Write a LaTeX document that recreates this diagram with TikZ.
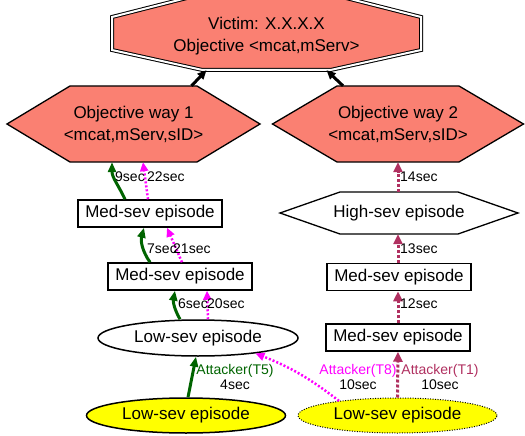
\documentclass[tikz,border=0pt]{standalone}
\usepackage{fontspec}
\setmainfont{Liberation Sans}
\usetikzlibrary{shapes.geometric, arrows.meta}
\definecolor{salmon}{HTML}{FA8072}
\definecolor{darkgreen}{HTML}{006400}
\definecolor{maroon}{HTML}{B03060}
\definecolor{fuchsia}{HTML}{FF00FF}
\definecolor{gvyellow}{HTML}{FFFF00}
\tikzset{
  octa/.style={
    draw, double, double distance=2pt, line width=1pt,
    fill=salmon
  },
  hexa/.style={
    draw, line width=1.3pt, fill=salmon
  },
  objtext/.style={
    shape=rectangle,
    align=center,
    font=\fontsize{17}{22}\selectfont,
    inner sep=0pt,
  },
  episode/.style={
    draw, rectangle, line width=1.5pt,
    font=\fontsize{17}{20}\selectfont,
    minimum width=144pt, minimum height=27pt, inner sep=0pt
  },
  lowsev/.style={
    draw, ellipse, line width=1.5pt,
    font=\fontsize{17}{20}\selectfont,
    minimum width=199pt, minimum height=35pt, inner sep=0pt
  },
  lbl/.style={font=\fontsize{14}{14.5}\selectfont, inner sep=0pt, anchor=west},
  greenedge/.style={darkgreen, line width=3pt, -{Triangle[length=10pt,width=8pt]}},
  pinkedge/.style={fuchsia, line width=2.5pt, dash pattern=on 2pt off 2pt, -{Triangle[length=9pt,width=8pt]}},
  maroonedge/.style={maroon, line width=3pt, dash pattern=on 3pt off 2pt, -{Triangle[length=10pt,width=9pt]}},
  topedge/.style={black, line width=3pt, -{Triangle[length=9pt,width=8pt]}},
}

\begin{document}
\begin{tikzpicture}[x=1pt, y=1pt]
\useasboundingbox (0,0) rectangle (525,-436);

% Objectives
\draw[octa] (202.5,6) -- (330.5,6) -- (421,-17) -- (421,-50) -- (330.5,-70) -- (202.5,-70) -- (112,-50) -- (112,-17) -- cycle;
\draw[hexa] (7,-124) -- (70,-86) -- (197,-86) -- (260,-124) -- (197,-162) -- (70,-162) -- cycle;
\draw[hexa] (272.5,-124) -- (337,-86) -- (459,-86) -- (523.5,-124) -- (459,-162) -- (337,-162) -- cycle;
\draw[hexa, fill=white] (280,-213) -- (340,-192) -- (458,-192) -- (518,-213) -- (458,-234) -- (340,-234) -- cycle;

\node[objtext, minimum width=309pt, minimum height=67pt] (victim) at (266.5,-36.5) {Victim: X.X.X.X\\Objective <mcat,mServ>};
\node[objtext, minimum width=253pt, minimum height=76pt] (ow1) at (133.5,-124) {Objective way 1\\<mcat,mServ,sID>};
\node[objtext, minimum width=251pt, minimum height=76pt] (ow2) at (398,-124) {Objective way 2\\<mcat,mServ,sID>};

% Episodes
\node[objtext, minimum width=238pt, minimum height=42pt] (high) at (399,-213) {High-sev episode};
\node[episode] (med1) at (150,-213.5) {Med-sev episode};
\node[episode] (med2) at (180,-276.5) {Med-sev episode};
\node[episode] (medR2) at (399,-277) {Med-sev episode};
\node[episode] (medR1) at (398,-337.5) {Med-sev episode};
\node[lowsev, minimum width=200pt, minimum height=36pt] (lowW) at (198,-338) {Low-sev episode};
\node[lowsev, fill=gvyellow] (lowY1) at (186,-415.5) {Low-sev episode};
\node[lowsev, fill=gvyellow, line width=1pt, dash pattern=on 1pt off 1.5pt] (lowY2) at (397.5,-415.5) {Low-sev episode};

% Edges
\draw[topedge] ([xshift=58pt]ow1.north) -- ([xshift=-60pt]victim.south);
\draw[topedge] ([xshift=-55pt]ow2.north) -- ([xshift=60pt]victim.south);

\draw[greenedge] ([xshift=2pt]lowY1.north) -- ([xshift=-2pt]lowW.south);
\draw[greenedge] ([xshift=-18pt]lowW.north) to[bend left=20] ([xshift=-5pt]med2.south);
\draw[greenedge] ([xshift=-30pt]med2.north) to[bend left=25] ([xshift=-6pt]med1.south);
\draw[greenedge] ([xshift=-25pt]med1.north) to[out=115,in=-90] ([xshift=-21.5pt]ow1.south);

\draw[pinkedge] (lowY2.166) to[bend right=8] (lowW.-15);
\draw[pinkedge] ([xshift=10pt]lowW.north) -- ([xshift=27pt]med2.south);
\draw[pinkedge] ([xshift=2pt]med2.north) -- ([xshift=17pt]med1.south);
\draw[pinkedge] ([xshift=-2pt]med1.north) -- ([xshift=9.5pt]ow1.south);

\draw[maroonedge] (lowY2.north) -- (medR1.south);
\draw[maroonedge] (medR1.north) -- ([xshift=-1pt]medR2.south);
\draw[maroonedge] ([xshift=-1pt]medR2.north) -- ([xshift=-1pt]high.south);
\draw[maroonedge] ([xshift=-1pt]high.north) -- (ow2.south);

% Times
\node[lbl] (t9) at (115,-177) {9sec};
\node[lbl] (t22) at (147,-177) {22sec};
\node[lbl] (t7) at (147,-249) {7sec};
\node[lbl] (t21) at (173,-249) {21sec};
\node[lbl] (t6) at (178,-304) {6sec};
\node[lbl] (t20) at (207,-304) {20sec};
\node[lbl] (t14) at (400,-177) {14sec};
\node[lbl] (t13) at (400,-249) {13sec};
\node[lbl] (t12) at (400,-304) {12sec};
\node[lbl, anchor=center, align=center] (tT5) at (235,-377) {\textcolor{darkgreen}{Attacker(T5)}\\4sec};
\node[lbl, anchor=center, align=center] (tT8) at (358,-377) {\textcolor{fuchsia}{Attacker(T8)}\\10sec};
\node[lbl, anchor=center, align=center] (tT1) at (440,-377) {\textcolor{maroon}{Attacker(T1)}\\10sec};

\end{tikzpicture}
\end{document}
